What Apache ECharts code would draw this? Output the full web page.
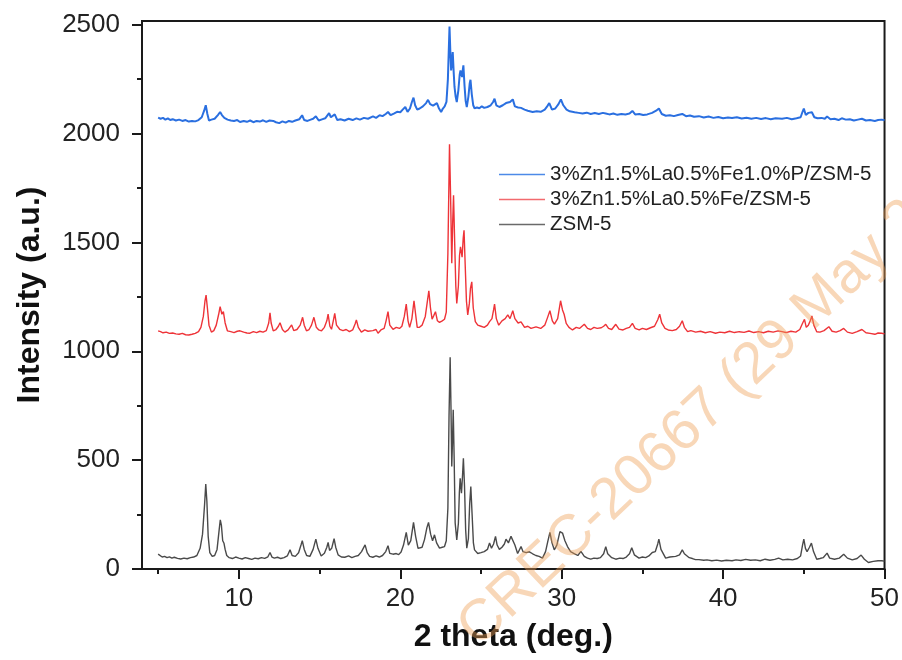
<!DOCTYPE html>
<html>
<head>
<meta charset="utf-8">
<script src="https://cdn.jsdelivr.net/npm/echarts@6/dist/echarts.min.js"></script>
<style>
  html, body { margin: 0; padding: 0; background: #fff; }
  #chart { width: 902px; height: 660px; }
</style>
</head>
<body>
<div id="chart"></div>
<script>
// XRD patterns: [2 theta (deg.), intensity (a.u.)]
const zsm5 = [
  [5.00,68],[5.10,60],[5.25,55],[5.40,58],[5.55,52],[5.70,56],[5.85,50],[6.00,54],[6.20,49],[6.40,46],
  [6.60,50],[6.80,47],[7.00,52],[7.20,55],[7.40,62],[7.60,95],[7.75,160],[7.88,300],[7.95,390],[8.02,310],
  [8.10,150],[8.20,75],[8.35,58],[8.50,62],[8.65,90],[8.78,180],[8.85,226],[8.92,200],[9.00,130],[9.08,118],
  [9.15,90],[9.25,62],[9.40,52],[9.60,48],[9.80,55],[10.00,50],[10.20,46],[10.40,52],[10.60,48],[10.80,44],
  [11.00,50],[11.20,47],[11.40,52],[11.60,49],[11.80,56],[11.93,76],[12.05,55],[12.20,50],[12.40,54],[12.60,48],
  [12.80,52],[13.00,60],[13.17,88],[13.30,62],[13.50,58],[13.70,75],[13.85,110],[13.93,130],[14.05,90],[14.20,62],
  [14.40,58],[14.60,90],[14.77,137],[14.90,95],[15.10,60],[15.30,72],[15.45,100],[15.53,122],[15.62,85],[15.75,95],
  [15.90,139],[16.00,100],[16.15,65],[16.35,55],[16.56,54],[16.80,60],[17.00,52],[17.20,58],[17.40,62],[17.60,80],
  [17.82,111],[17.95,75],[18.10,58],[18.30,54],[18.50,60],[18.70,55],[18.90,62],[19.10,80],[19.24,107],[19.35,72],
  [19.55,68],[19.75,71],[19.90,66],[20.05,78],[20.20,110],[20.37,168],[20.50,110],[20.65,130],[20.82,214],[20.95,150],
  [21.10,95],[21.19,88],[21.35,100],[21.50,135],[21.65,190],[21.75,214],[21.88,160],[22.00,130],[22.12,157],[22.25,120],
  [22.43,96],[22.60,100],[22.74,103],[22.85,130],[22.95,280],[23.02,700],[23.09,972],[23.14,750],[23.19,471],[23.24,600],
  [23.28,731],[23.34,500],[23.40,212],[23.50,134],[23.60,210],[23.66,350],[23.71,417],[23.79,348],[23.85,420],[23.91,509],
  [23.98,380],[24.05,180],[24.12,96],[24.22,140],[24.30,300],[24.37,379],[24.45,250],[24.53,120],[24.60,88],[24.80,71],
  [25.00,75],[25.20,80],[25.40,90],[25.53,119],[25.65,95],[25.78,115],[25.90,150],[26.00,110],[26.14,90],[26.30,100],
  [26.45,115],[26.55,137],[26.70,120],[26.86,150],[26.95,155],[27.10,110],[27.27,71],[27.48,103],[27.60,80],[27.80,75],
  [28.00,79],[28.20,70],[28.40,62],[28.60,58],[28.81,50],[29.00,80],[29.15,130],[29.27,168],[29.40,120],[29.54,88],
  [29.70,110],[29.89,172],[30.05,165],[30.20,130],[30.36,103],[30.55,80],[30.80,70],[31.00,62],[31.19,81],[31.40,58],
  [31.60,50],[31.80,45],[32.00,50],[32.20,48],[32.40,52],[32.60,70],[32.73,103],[32.85,70],[33.10,52],[33.35,45],
  [33.60,50],[33.80,48],[34.00,55],[34.20,70],[34.34,98],[34.50,65],[34.79,50],[35.00,55],[35.20,52],[35.40,60],
  [35.61,76],[35.80,80],[35.95,115],[36.02,137],[36.15,90],[36.44,50],[36.70,55],[37.06,58],[37.30,65],[37.47,88],
  [37.60,70],[37.68,61],[37.90,52],[38.10,48],[38.29,43],[38.50,43],[38.80,40],[39.00,42],[39.30,38],[39.60,41],
  [39.90,37],[40.20,40],[40.55,38],[40.80,42],[41.10,39],[41.40,44],[41.70,40],[42.00,42],[42.30,38],[42.60,45],
  [42.90,40],[43.20,44],[43.44,50],[43.70,42],[44.00,45],[44.30,42],[44.60,48],[44.80,60],[44.92,110],[45.00,137],
  [45.10,95],[45.20,80],[45.35,100],[45.47,119],[45.60,80],[45.80,45],[46.00,48],[46.20,52],[46.44,73],[46.60,50],
  [46.90,45],[47.20,50],[47.47,68],[47.70,50],[48.00,42],[48.30,48],[48.55,64],[48.75,45],[49.00,30],[49.30,35],
  [49.60,38],[49.82,38],[50.00,36]
];

const feZsm5 = [
  [5.00,1094],[5.15,1090],[5.30,1085],[5.50,1088],[5.70,1082],[5.90,1084],[6.10,1080],[6.30,1078],[6.50,1082],[6.70,1076],
  [6.90,1075],[7.10,1078],[7.30,1082],[7.50,1090],[7.65,1110],[7.80,1160],[7.90,1230],[7.97,1258],[8.05,1200],[8.15,1120],
  [8.30,1088],[8.45,1095],[8.60,1120],[8.75,1170],[8.84,1205],[8.95,1170],[9.04,1182],[9.15,1130],[9.29,1094],[9.50,1090],
  [9.70,1086],[9.90,1092],[10.07,1094],[10.30,1088],[10.50,1084],[10.69,1083],[10.90,1090],[11.10,1086],[11.30,1092],[11.50,1088],
  [11.70,1095],[11.85,1130],[11.93,1177],[12.00,1130],[12.13,1094],[12.30,1100],[12.45,1115],[12.55,1131],[12.70,1100],[12.85,1088],
  [13.05,1098],[13.27,1121],[13.40,1095],[13.60,1100],[13.80,1120],[13.95,1156],[14.05,1120],[14.19,1094],[14.35,1100],[14.50,1120],
  [14.65,1156],[14.80,1110],[14.95,1098],[15.12,1094],[15.30,1110],[15.45,1140],[15.53,1171],[15.64,1115],[15.74,1101],[15.85,1140],
  [15.94,1174],[16.05,1120],[16.25,1101],[16.45,1095],[16.65,1100],[16.85,1090],[17.05,1098],[17.20,1125],[17.28,1144],[17.40,1110],
  [17.59,1088],[17.80,1098],[18.00,1092],[18.10,1101],[18.30,1095],[18.50,1100],[18.62,1083],[18.80,1098],[19.00,1105],[19.12,1140],
  [19.24,1182],[19.35,1120],[19.55,1101],[19.75,1110],[19.95,1105],[20.10,1115],[20.25,1160],[20.37,1217],[20.48,1140],[20.58,1110],
  [20.72,1150],[20.85,1232],[20.95,1170],[21.05,1110],[21.19,1110],[21.35,1120],[21.55,1160],[21.68,1230],[21.77,1278],[21.87,1200],
  [21.97,1147],[22.08,1165],[22.18,1182],[22.30,1140],[22.43,1133],[22.60,1140],[22.74,1147],[22.85,1180],[22.95,1450],[23.05,1951],
  [23.12,1700],[23.19,1404],[23.25,1600],[23.30,1717],[23.37,1500],[23.44,1300],[23.50,1220],[23.60,1300],[23.67,1440],[23.73,1480],
  [23.83,1432],[23.90,1520],[23.95,1556],[24.02,1400],[24.10,1230],[24.18,1167],[24.28,1220],[24.35,1290],[24.43,1319],[24.52,1200],
  [24.65,1136],[24.80,1120],[25.00,1115],[25.20,1110],[25.40,1120],[25.53,1136],[25.68,1150],[25.78,1190],[25.84,1217],[25.95,1150],
  [26.10,1120],[26.30,1140],[26.50,1150],[26.66,1167],[26.80,1150],[26.97,1186],[27.10,1150],[27.30,1130],[27.48,1135],[27.70,1110],
  [27.90,1115],[28.10,1105],[28.41,1112],[28.70,1105],[28.95,1120],[29.10,1150],[29.27,1186],[29.42,1140],[29.55,1125],[29.75,1150],
  [29.93,1232],[30.05,1190],[30.15,1170],[30.28,1128],[30.45,1110],[30.67,1098],[30.90,1110],[31.10,1105],[31.40,1124],[31.60,1105],
  [31.80,1100],[32.00,1110],[32.20,1105],[32.45,1108],[32.60,1115],[32.73,1124],[32.90,1105],[33.10,1100],[33.35,1124],[33.55,1102],
  [33.80,1098],[34.00,1105],[34.20,1110],[34.38,1128],[34.55,1105],[34.80,1098],[35.00,1105],[35.25,1100],[35.50,1108],[35.75,1115],
  [35.95,1145],[36.07,1170],[36.20,1130],[36.40,1105],[36.60,1098],[36.85,1095],[37.10,1100],[37.30,1115],[37.47,1140],[37.60,1110],
  [37.80,1090],[38.00,1095],[38.30,1088],[38.60,1092],[38.90,1085],[39.20,1090],[39.53,1083],[39.80,1088],[40.10,1085],[40.40,1092],
  [40.70,1086],[41.00,1090],[41.30,1087],[41.60,1093],[41.90,1086],[42.20,1090],[42.50,1085],[42.80,1092],[43.10,1088],[43.40,1094],
  [43.65,1090],[43.90,1086],[44.20,1092],[44.50,1088],[44.75,1100],[44.90,1125],[45.04,1147],[45.15,1110],[45.28,1120],[45.40,1140],
  [45.50,1162],[45.62,1120],[45.80,1090],[46.00,1088],[46.25,1095],[46.55,1113],[46.75,1092],[47.00,1088],[47.25,1095],[47.47,1105],
  [47.70,1088],[48.00,1082],[48.30,1090],[48.60,1100],[48.85,1085],[49.10,1082],[49.40,1078],[49.60,1084],[49.82,1083],[50.00,1080]
];

const pFeZsm5 = [
  [5.00,2073],[5.15,2068],[5.30,2072],[5.45,2064],[5.60,2070],[5.75,2062],[5.90,2066],[6.10,2060],[6.30,2064],[6.50,2058],
  [6.70,2062],[6.90,2055],[7.10,2058],[7.30,2056],[7.50,2062],[7.70,2075],[7.85,2105],[7.95,2130],[8.05,2090],[8.15,2060],
  [8.30,2064],[8.50,2068],[8.70,2085],[8.84,2099],[8.95,2085],[9.10,2072],[9.30,2064],[9.50,2060],[9.70,2058],[9.90,2062],
  [10.07,2053],[10.30,2058],[10.50,2054],[10.70,2060],[10.90,2052],[11.10,2058],[11.30,2055],[11.50,2061],[11.70,2054],[11.90,2060],
  [12.13,2058],[12.30,2052],[12.50,2048],[12.70,2056],[12.90,2050],[13.10,2058],[13.30,2054],[13.50,2060],[13.75,2066],[13.92,2084],
  [14.05,2062],[14.25,2058],[14.45,2064],[14.60,2068],[14.77,2079],[14.95,2060],[15.15,2065],[15.35,2070],[15.59,2094],[15.70,2075],
  [15.80,2080],[15.94,2088],[16.10,2062],[16.30,2066],[16.55,2060],[16.80,2068],[17.05,2062],[17.28,2070],[17.50,2064],[17.75,2072],
  [18.00,2068],[18.31,2079],[18.50,2072],[18.72,2084],[18.90,2080],[19.10,2090],[19.24,2099],[19.40,2085],[19.60,2092],[19.80,2100],
  [20.00,2098],[20.15,2110],[20.31,2122],[20.45,2100],[20.60,2115],[20.72,2145],[20.82,2165],[20.92,2130],[21.05,2110],[21.20,2115],
  [21.40,2125],[21.60,2140],[21.72,2155],[21.85,2135],[22.03,2128],[22.15,2135],[22.27,2140],[22.40,2115],[22.53,2099],[22.64,2115],
  [22.75,2125],[22.86,2145],[22.95,2250],[23.05,2492],[23.10,2380],[23.15,2290],[23.20,2330],[23.25,2374],[23.31,2280],[23.36,2214],
  [23.43,2170],[23.50,2145],[23.60,2200],[23.68,2270],[23.73,2290],[23.83,2260],[23.87,2290],[23.91,2313],[23.98,2220],[24.05,2150],
  [24.12,2122],[24.22,2170],[24.30,2230],[24.35,2247],[24.43,2180],[24.52,2130],[24.60,2116],[24.75,2120],[24.90,2116],[25.05,2125],
  [25.20,2118],[25.40,2122],[25.60,2130],[25.75,2145],[25.84,2160],[25.95,2130],[26.14,2122],[26.35,2130],[26.55,2140],[26.66,2135],
  [26.80,2145],[26.86,2150],[26.97,2157],[27.10,2125],[27.30,2120],[27.48,2118],[27.70,2110],[27.90,2105],[28.20,2099],[28.45,2102],
  [28.70,2100],[28.95,2110],[29.10,2125],[29.23,2140],[29.40,2110],[29.60,2115],[29.80,2135],[29.95,2157],[30.10,2130],[30.30,2110],
  [30.50,2102],[30.80,2098],[31.05,2095],[31.29,2092],[31.55,2096],[31.80,2090],[32.05,2094],[32.30,2090],[32.55,2095],[32.73,2092],
  [32.95,2088],[33.20,2092],[33.45,2086],[33.70,2090],[33.95,2088],[34.20,2092],[34.38,2104],[34.55,2088],[34.80,2090],[35.05,2085],
  [35.30,2088],[35.60,2095],[35.85,2105],[36.02,2115],[36.20,2090],[36.45,2082],[36.70,2084],[36.95,2080],[37.20,2085],[37.47,2090],
  [37.70,2080],[37.95,2083],[38.20,2077],[38.50,2080],[38.80,2074],[39.10,2078],[39.40,2072],[39.70,2076],[40.00,2070],[40.30,2074],
  [40.55,2071],[40.85,2075],[41.15,2069],[41.45,2073],[41.75,2068],[42.05,2072],[42.35,2067],[42.65,2071],[42.95,2066],[43.25,2070],
  [43.65,2068],[43.95,2072],[44.25,2066],[44.55,2070],[44.80,2075],[44.92,2100],[45.00,2115],[45.12,2085],[45.28,2095],[45.40,2102],
  [45.50,2098],[45.65,2075],[45.85,2070],[46.10,2072],[46.30,2068],[46.44,2078],[46.65,2066],[46.90,2068],[47.15,2062],[47.35,2070],
  [47.60,2064],[47.85,2066],[48.10,2060],[48.35,2064],[48.60,2068],[48.85,2060],[49.10,2062],[49.40,2058],[49.60,2062],[49.82,2064],
  [50.00,2061]
];

const seriesNames = ['3%Zn1.5%La0.5%Fe1.0%P/ZSM-5', '3%Zn1.5%La0.5%Fe/ZSM-5', 'ZSM-5'];
const xMajorTicks = [10, 20, 30, 40, 50];
const xMinorTicks = [5, 15, 25, 35, 45];
const yMajorTicks = [0, 500, 1000, 1500, 2000, 2500];
const yMinorTicks = [250, 750, 1250, 1750, 2250];

const FONT = '"Liberation Sans", Arial, Helvetica, sans-serif';
const X_MIN = 4, X_MAX = 50, Y_MIN = 0, Y_MAX = 2517;

const chart = echarts.init(document.getElementById('chart'), null, { renderer: 'canvas' });

const hidden = { show: false };
const plainNumber = v => String(v);
const minorAxisBase = {
  type: 'value',
  axisLine: hidden,
  axisLabel: hidden,
  splitLine: hidden
};

chart.setOption({
  animation: false,
  backgroundColor: '#ffffff',
  grid: {
    left: 142, right: 16, top: 21, bottom: 91,
    show: true, borderColor: '#1a1a1a', borderWidth: 2, backgroundColor: 'transparent'
  },
  legend: {
    orient: 'vertical',
    left: 494, top: 157,
    itemWidth: 46, itemHeight: 1.6, itemGap: 0,
    icon: 'rect',
    data: seriesNames,
    textStyle: { fontFamily: FONT, fontSize: 20.5, color: '#222', lineHeight: 25 }
  },
  xAxis: [
    {
      type: 'value', min: X_MIN, max: X_MAX,
      name: '2 theta (deg.)', nameLocation: 'middle', nameGap: 52,
      nameTextStyle: { fontFamily: FONT, fontSize: 32, fontWeight: 'bold', color: '#111' },
      axisLine: { show: true, lineStyle: { color: '#1a1a1a', width: 2 } },
      axisTick: { show: true, inside: false, length: 10, customValues: xMajorTicks, lineStyle: { color: '#1a1a1a', width: 2 } },
      axisLabel: { customValues: xMajorTicks, formatter: plainNumber, margin: 17, fontFamily: FONT, fontSize: 26, color: '#222' },
      splitLine: hidden
    },
    Object.assign({}, minorAxisBase, {
      min: X_MIN, max: X_MAX, position: 'bottom',
      axisTick: { show: true, inside: false, length: 5, customValues: xMinorTicks, lineStyle: { color: '#1a1a1a', width: 2 } }
    })
  ],
  yAxis: [
    {
      type: 'value', min: Y_MIN, max: Y_MAX,
      name: 'Intensity (a.u.)', nameLocation: 'middle', nameGap: 96,
      nameTextStyle: { fontFamily: FONT, fontSize: 32, fontWeight: 'bold', color: '#111' },
      axisLine: { show: true, lineStyle: { color: '#1a1a1a', width: 2 } },
      axisTick: { show: true, inside: false, length: 10, customValues: yMajorTicks, lineStyle: { color: '#1a1a1a', width: 2 } },
      axisLabel: { customValues: yMajorTicks, formatter: plainNumber, margin: 22, fontFamily: FONT, fontSize: 26, color: '#222' },
      splitLine: hidden
    },
    Object.assign({}, minorAxisBase, {
      min: Y_MIN, max: Y_MAX, position: 'left',
      axisTick: { show: true, inside: false, length: 5, customValues: yMinorTicks, lineStyle: { color: '#1a1a1a', width: 2 } }
    })
  ],
  series: [
    {
      name: seriesNames[2], type: 'line', data: zsm5,
      xAxisIndex: 0, yAxisIndex: 0, symbol: 'none', smooth: false,
      lineStyle: { color: '#4a4a4a', width: 1.4 }, itemStyle: { color: '#6a6a6a' }, z: 3
    },
    {
      name: seriesNames[1], type: 'line', data: feZsm5,
      xAxisIndex: 0, yAxisIndex: 0, symbol: 'none', smooth: false,
      lineStyle: { color: '#ee3338', width: 1.4 }, itemStyle: { color: '#f26a6e' }, z: 3
    },
    {
      name: seriesNames[0], type: 'line', data: pFeZsm5,
      xAxisIndex: 0, yAxisIndex: 0, symbol: 'none', smooth: false,
      lineStyle: { color: '#2a6fe0', width: 2 }, itemStyle: { color: '#4d8ae8' }, z: 3
    }
  ],
  graphic: [
    {
      type: 'text',
      x: 692, y: 424,
      rotation: 0.76,
      z: 100,
      silent: true,
      style: {
        text: 'CREC-20667 (29 May 2',
        font: '58px ' + FONT,
        fill: 'rgba(238, 160, 85, 0.42)',
        align: 'center',
        verticalAlign: 'middle'
      }
    }
  ]
});
</script>
</body>
</html>
